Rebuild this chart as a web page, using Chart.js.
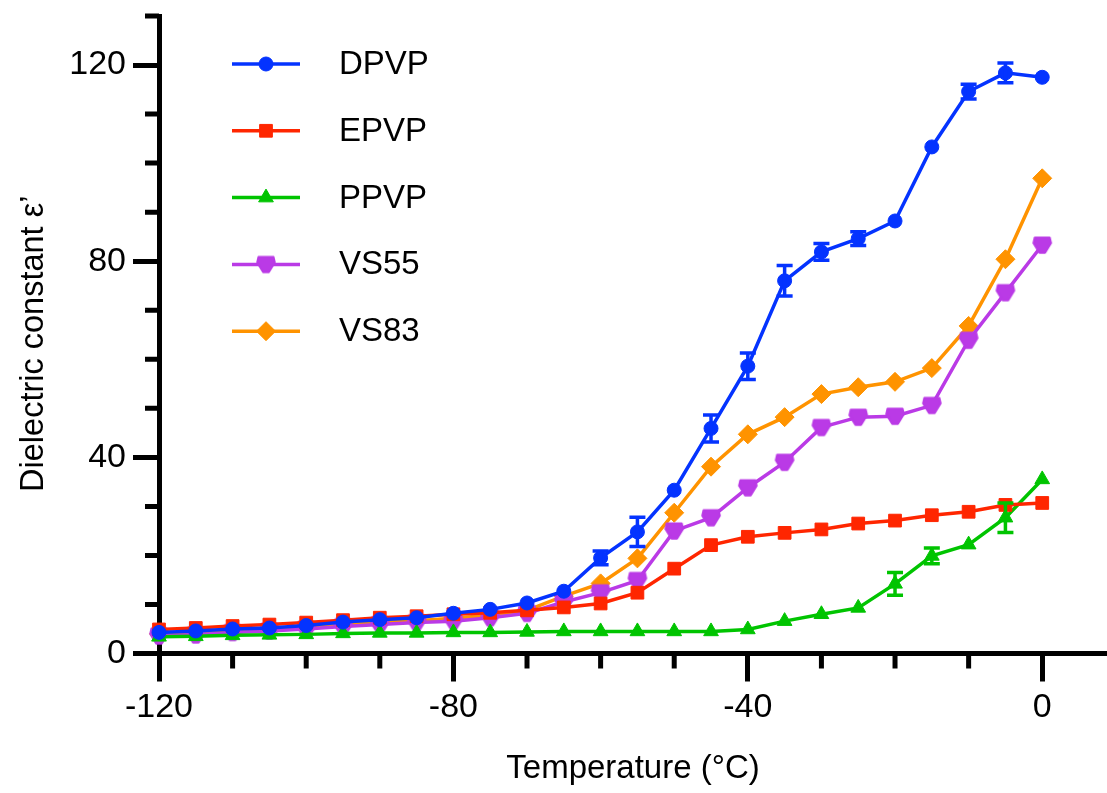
<!DOCTYPE html>
<html>
<head>
<meta charset="utf-8">
<title>Dielectric constant vs temperature</title>
<script src="https://cdn.jsdelivr.net/npm/chart.js@4/dist/chart.umd.min.js"></script>
<style>
  html, body { margin: 0; padding: 0; background: #fff; overflow: hidden; }
  #wrap { width: 1107px; height: 793px; position: relative; }
  #grafico { display: block; }
</style>
</head>
<body>
<div id="wrap"><canvas id="grafico"></canvas></div>
<script>
// temperaturas (°C)
const temps = [-120, -115, -110, -105, -100, -95, -90, -85, -80, -75, -70, -65, -60,
  -55, -50, -45, -40, -35, -30, -25, -20, -15, -10, -5, 0];

const nomes = ["DPVP", "EPVP", "PPVP", "VS55", "VS83"];

const dpvp = [4.3, 4.6, 5.0, 5.2, 5.7, 6.4, 6.9, 7.3, 8.2, 9.0, 10.3, 12.7, 19.5,
  24.8, 33.3, 45.9, 58.6, 76.0, 81.9, 84.6, 88.2, 103.3, 114.6, 118.4, 117.5];
const epvp = [4.9, 5.2, 5.6, 5.9, 6.3, 6.8, 7.3, 7.6, 8.0, 8.3, 8.8, 9.4, 10.2,
  12.4, 17.3, 22.1, 23.8, 24.6, 25.3, 26.5, 27.1, 28.2, 28.9, 30.3, 30.7];
const ppvp = [3.4, 3.5, 3.7, 3.8, 3.9, 4.1, 4.2, 4.2, 4.3, 4.3, 4.4, 4.5, 4.5,
  4.5, 4.5, 4.5, 4.9, 6.6, 8.0, 9.3, 14.2, 19.9, 22.2, 27.7, 35.5];
const vs55 = [3.6, 3.8, 4.3, 4.6, 5.0, 5.5, 5.9, 6.3, 6.6, 7.3, 8.2, 10.5, 12.4,
  14.9, 25.0, 27.7, 33.8, 39.0, 46.1, 48.2, 48.4, 50.6, 63.9, 73.6, 83.3];
const vs83 = [4.0, 4.3, 4.7, 5.0, 5.4, 5.9, 6.3, 6.7, 7.2, 7.8, 8.8, 11.7, 14.3,
  19.4, 28.7, 38.1, 44.7, 48.2, 52.9, 54.3, 55.4, 58.2, 66.8, 80.4, 96.9];

// barras de erro (± valor), null = sem barra
const dpvpErr = [null, null, null, null, null, null, null, null, null, null, null, null, 1.4,
  3.0, null, 2.75, 2.7, 3.1, 1.7, 1.4, null, null, 1.5, 2.0, null];
const ppvpErr = [null, null, null, null, null, null, null, null, null, null, null, null, null,
  null, null, null, null, null, null, null, 2.3, 1.6, null, 3.0, null];

// eixos
const xTicksMenores = [-110, -100, -90, -70, -60, -50, -30, -20, -10];
const yTicksMenores = [10, 20, 30, 50, 60, 70, 90, 100, 110, 130];

const fonte = "'Liberation Sans', Arial, Helvetica, sans-serif";
Chart.defaults.font.family = fonte;
Chart.defaults.color = "#000";

// marcador do VS55 (escudo virado pra baixo)
function marcadorEscudo(cor) {
  const c = document.createElement("canvas");
  c.width = 22; c.height = 22;
  const g = c.getContext("2d");
  g.translate(11, 11);
  g.beginPath();
  g.moveTo(-7.5, -7.5); g.lineTo(7.5, -7.5); g.lineTo(8.8, -2);
  g.lineTo(2.8, 7.8); g.lineTo(-2.8, 7.8); g.lineTo(-8.8, -2);
  g.closePath();
  g.fillStyle = cor; g.strokeStyle = cor; g.lineWidth = 2; g.lineJoin = "round";
  g.fill(); g.stroke();
  return c;
}

const cores = ["#0433FF", "#FF2600", "#00C400", "#BA3AE6", "#FF9300"];
const series = [dpvp, epvp, ppvp, vs55, vs83];
const erros = [dpvpErr, null, ppvpErr, null, null];
const estilos = [
  { pointStyle: "circle", pointRadius: 7 },
  { pointStyle: "rect", pointRadius: 9 },
  { pointStyle: "triangle", pointRadius: 8.5 },
  { pointStyle: marcadorEscudo(cores[3]), pointRadius: 9 },
  { pointStyle: "rectRot", pointRadius: 9.5 }
];

const datasets = series.map((s, i) => Object.assign({
  label: nomes[i],
  data: temps.map((t, j) => ({ x: t, y: s[j] })),
  borderColor: cores[i],
  backgroundColor: cores[i],
  pointBackgroundColor: cores[i],
  pointBorderColor: cores[i],
  pointBorderWidth: 1,
  borderWidth: 3.5,
  clip: false,
  erros: erros[i]
}, estilos[i]));

// barras de erro desenhadas pelas escalas do grafico
const pluginErros = {
  id: "erros",
  afterDatasetsDraw(chart) {
    const ctx = chart.ctx, xs = chart.scales.x, ys = chart.scales.y;
    ctx.save();
    chart.data.datasets.forEach(ds => {
      if (!ds.erros) return;
      ctx.strokeStyle = ds.borderColor;
      ctx.lineWidth = 3.5;
      ds.erros.forEach((e, j) => {
        if (e == null) return;
        const px = xs.getPixelForValue(ds.data[j].x);
        const y1 = ys.getPixelForValue(ds.data[j].y + e);
        const y2 = ys.getPixelForValue(ds.data[j].y - e);
        ctx.beginPath();
        ctx.moveTo(px, y1); ctx.lineTo(px, y2);
        ctx.moveTo(px - 8, y1); ctx.lineTo(px + 8, y1);
        ctx.moveTo(px - 8, y2); ctx.lineTo(px + 8, y2);
        ctx.stroke();
      });
    });
    ctx.restore();
  }
};

// ticks menores (mais curtos) nos dois eixos
const pluginTicksMenores = {
  id: "ticksMenores",
  afterDraw(chart) {
    const ctx = chart.ctx, xs = chart.scales.x, ys = chart.scales.y, area = chart.chartArea;
    ctx.save();
    ctx.strokeStyle = "#000";
    ctx.lineWidth = 5;
    ctx.beginPath();
    xTicksMenores.forEach(v => {
      const px = xs.getPixelForValue(v);
      ctx.moveTo(px, area.bottom); ctx.lineTo(px, area.bottom + 15);
    });
    yTicksMenores.forEach(v => {
      const py = ys.getPixelForValue(v);
      ctx.moveTo(area.left, py); ctx.lineTo(area.left - 14, py);
    });
    ctx.stroke();
    ctx.restore();
  }
};

// legenda com linha + marcador, no canto superior esquerdo
const pluginLegenda = {
  id: "legendaLinha",
  afterDraw(chart) {
    const ctx = chart.ctx;
    ctx.save();
    chart.data.datasets.forEach((ds, i) => {
      const y = 64 + i * 66.8;
      ctx.strokeStyle = ds.borderColor;
      ctx.fillStyle = ds.borderColor;
      ctx.lineWidth = 3.5;
      ctx.beginPath();
      ctx.moveTo(232, y); ctx.lineTo(300, y);
      ctx.stroke();
      ctx.lineWidth = 1;
      Chart.helpers.drawPoint(ctx, { pointStyle: ds.pointStyle, radius: ds.pointRadius, rotation: 0, borderWidth: 1 }, 266, y);
      ctx.fillStyle = "#000";
      ctx.font = "33px " + fonte;
      ctx.textAlign = "left";
      ctx.textBaseline = "middle";
      ctx.fillText(ds.label, 339, y + 1);
    });
    ctx.restore();
  }
};

new Chart(document.getElementById("grafico"), {
  type: "line",
  data: { datasets },
  plugins: [pluginErros, pluginTicksMenores, pluginLegenda],
  options: {
    responsive: true,
    maintainAspectRatio: false,
    animation: false,
    events: [],
    layout: { autoPadding: false, padding: { top: 16, right: 0, left: 0, bottom: 0 } },
    plugins: { legend: { display: false }, tooltip: { enabled: false } },
    scales: {
      x: {
        type: "linear",
        min: -120,
        max: 8.8,
        border: { display: true, color: "#000", width: 5 },
        grid: { display: true, drawOnChartArea: false, drawTicks: true, tickLength: 28, tickWidth: 5, tickColor: "#000", color: "#000" },
        ticks: { stepSize: 40, includeBounds: false, padding: 6, font: { size: 34 }, color: "#000", maxRotation: 0 },
        title: { display: true, text: "Temperature (°C)", font: { size: 33 }, color: "#000", padding: { top: 0, bottom: 4 } },
        afterFit(s) { s.height = 793 - 653.5; s.paddingLeft = 0; s.paddingRight = 0; }
      },
      y: {
        type: "linear",
        min: 0,
        max: 130,
        border: { display: true, color: "#000", width: 5 },
        grid: { display: true, drawOnChartArea: false, drawTicks: true, tickLength: 26, tickWidth: 5, tickColor: "#000", color: "#000" },
        ticks: { stepSize: 40, includeBounds: false, padding: 7, font: { size: 34 }, color: "#000" },
        title: { display: true, text: "Dielectric constant ε’\u00A0\u00A0", font: { size: 32.5 }, color: "#000", padding: { top: 15, bottom: 0 } },
        afterFit(s) { s.width = 159; s.paddingTop = 0; s.paddingBottom = 0; }
      }
    }
  }
});
</script>
</body>
</html>
